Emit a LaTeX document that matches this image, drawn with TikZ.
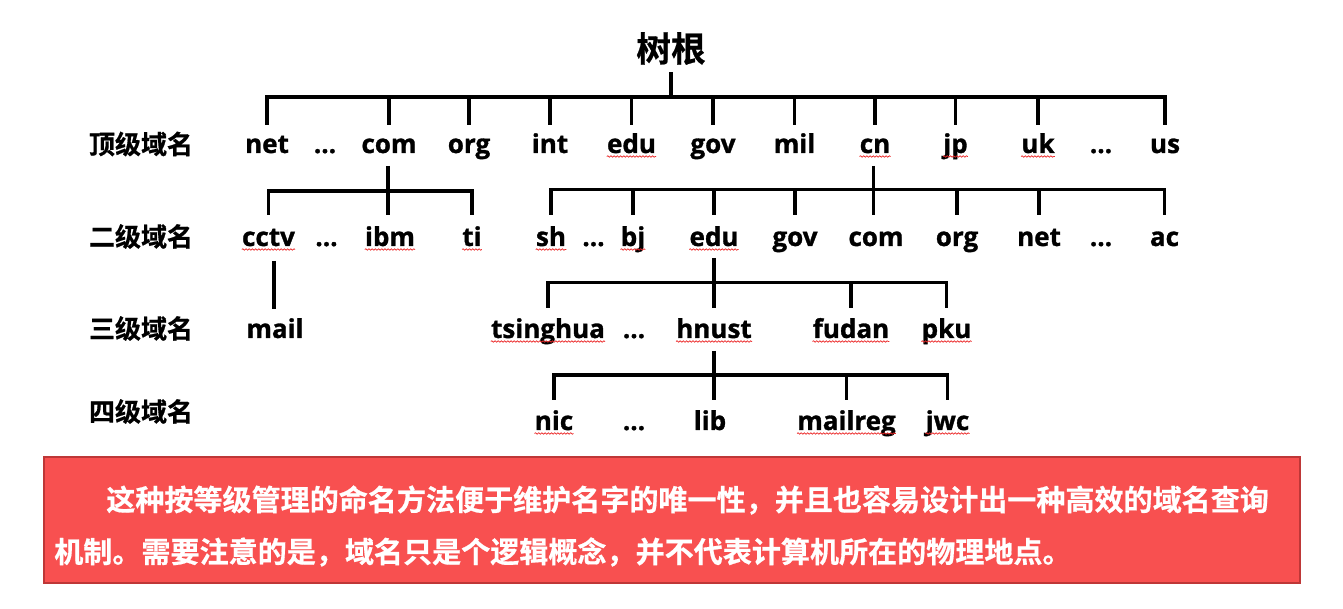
\documentclass[tikz,border=0pt]{standalone}
\usepackage{fontspec}
\newfontfamily\cjk[BoldFont={Noto Sans CJK SC Bold},BoldFeatures={FakeBold=0.6}]{Noto Sans CJK SC}
\newfontfamily\lat[BoldFeatures={FakeBold=1.2}]{Open Sans}
\usetikzlibrary{calc,decorations.pathmorphing}
\definecolor{boxred}{RGB}{248,80,80}
\definecolor{boxline}{RGB}{190,55,55}
\definecolor{spellred}{RGB}{235,40,40}
\tikzset{
  lat/.style={font=\lat\bfseries\fontsize{19.5}{20}\selectfont, inner sep=0pt, anchor=base},
  lvl/.style={font=\cjk\bfseries\fontsize{19.5}{20}\selectfont, inner sep=0pt},
  rootlab/.style={font=\cjk\bfseries\fontsize{26}{27}\selectfont, inner sep=0pt},
  notetext/.style={font=\cjk\bfseries\fontsize{21.8}{22}\selectfont, text=white, inner sep=0pt, anchor=west},
  tree/.style={line width=2.5pt},
  spell/.style={draw=spellred, line width=0.55pt, decorate,
    decoration={snake, amplitude=0.55pt, segment length=2.4pt}},
}
\newcommand\spellul[1]{\draw[spell] ($(#1.base west)+(0,3.5)$) -- ($(#1.base east)+(0,3.5)$);}
\begin{document}
\begin{tikzpicture}[x=0.75pt,y=-0.75pt]
\useasboundingbox (0,0) rectangle (1343,609);
% root
\node[rootlab] (root) at (671,48.5) {树根};
% level labels
\node[lvl] (l1) at (141,144) {顶级域名};
\node[lvl] (l2) at (141,236.5) {二级域名};
\node[lvl] (l3) at (141,328.5) {三级域名};
\node[lvl] (l4) at (141,411.5) {四级域名};
% top level
\node[lat] (net) at (267,153) {net};
\node[lat] (d1) at (325,153) {...};
\node[lat] (com) at (389,153) {com};
\node[lat] (org) at (469,153) {org};
\node[lat] (int) at (550,153) {int};
\node[lat] (edu) at (631.5,153) {edu};
\node[lat] (gov) at (713,153) {gov};
\node[lat] (mil) at (794.5,153) {mil};
\node[lat] (cn) at (875,153) {cn};
\node[lat] (jp) at (955.5,153) {jp};
\node[lat] (uk) at (1038,153) {uk};
\node[lat] (d2) at (1101,153) {...};
\node[lat] (us) at (1165,153) {us};
% second level under com
\node[lat] (cctv) at (268.5,246) {cctv};
\node[lat] (d3) at (326.5,246) {...};
\node[lat] (ibm) at (390,246) {ibm};
\node[lat] (ti) at (472,246) {ti};
% second level under cn
\node[lat] (sh) at (551,246) {sh};
\node[lat] (d4) at (593.5,246) {...};
\node[lat] (bj) at (633,246) {bj};
\node[lat] (edu2) at (714,246) {edu};
\node[lat] (gov2) at (795,246) {gov};
\node[lat] (com2) at (876,246) {com};
\node[lat] (org2) at (957,246) {org};
\node[lat] (net2) at (1039,246) {net};
\node[lat] (d5) at (1101,246) {...};
\node[lat] (ac) at (1164.5,246) {ac};
% third level
\node[lat] (mail) at (275,338) {mail};
\node[lat] (tsinghua) at (548,338) {tsinghua};
\node[lat] (d6) at (634,338) {...};
\node[lat] (hnust) at (714,338) {hnust};
\node[lat] (fudan) at (851,338) {fudan};
\node[lat] (pku) at (946.5,338) {pku};
% fourth level
\node[lat] (nic) at (554,430) {nic};
\node[lat] (d7) at (634,430) {...};
\node[lat] (lib) at (710,430) {lib};
\node[lat] (mailreg) at (846.5,430) {mailreg};
\node[lat] (jwc) at (947.5,430) {jwc};
% root connectors
\coordinate (j0) at ($(root)+(0,48.5)$);
\draw[tree] ($(root)+(0,24)$) -- (j0);
\foreach \c in {net,com,org,int,edu,gov,mil,cn,jp,uk,us}
  \draw[tree] (j0) -| ($(\c.base)+(0,-28)$);
% com subtree
\coordinate (j1) at ($(com.base)+(-1,38)$);
\draw[tree] ($(com.base)+(-1,13)$) -- (j1);
\draw[tree] (j1) -- ($(j1 |- ibm.base)+(0,-31)$);
\foreach \c in {cctv,ti}
  \draw[tree] (j1) -| ($(\c.base)+(0,-31)$);
% cctv - mail
\draw[tree] ($(mail.base |- cctv.base)+(-1,15)$) -- ($(mail.base)+(-1,-29)$);
% cn subtree
\coordinate (j2) at ($(cn.base)+(-1.5,36.5)$);
\draw[tree] ($(cn.base)+(-1.5,13)$) -- (j2);
\draw[tree] (j2) -- ($(j2 |- com2.base)+(0,-31)$);
\foreach \c in {sh,bj,edu2,gov2,org2,net2,ac}
  \draw[tree] (j2) -| ($(\c.base)+(0,-31)$);
% edu subtree
\coordinate (j3) at ($(edu2.base)+(0,36.5)$);
\draw[tree] ($(edu2.base)+(0,12)$) -- (j3);
\draw[tree] (j3) -- ($(j3 |- hnust.base)+(0,-30)$);
\foreach \c in {tsinghua,fudan,pku}
  \draw[tree] (j3) -| ($(\c.base)+(0,-30)$);
% hnust subtree
\coordinate (j4) at ($(hnust.base)+(0,37)$);
\draw[tree] ($(hnust.base)+(0,13)$) -- (j4);
\draw[tree] (j4) -- ($(j4 |- lib.base)+(0,-30)$);
\foreach \c in {nic,mailreg,jwc}
  \draw[tree] (j4) -| ($(\c.base)+(0,-30)$);
% spell-check underlines
\foreach \c in {edu,cn,jp,uk,cctv,ibm,ti,sh,bj,edu2,tsinghua,hnust,fudan,pku,nic,mailreg,jwc}
  {\spellul{\c}}
% note box
\path[fill=boxred, draw=boxline, line width=0.8pt] (44,457) rectangle (1300,583);
\node[notetext] (note1) at (106,500) {这种按等级管理的命名方法便于维护名字的唯一性，并且也容易设计出一种高效的域名查询};
\node[notetext] (note2) at (54,552) {机制。需要注意的是，域名只是个逻辑概念，并不代表计算机所在的物理地点。};
\end{tikzpicture}
\end{document}
